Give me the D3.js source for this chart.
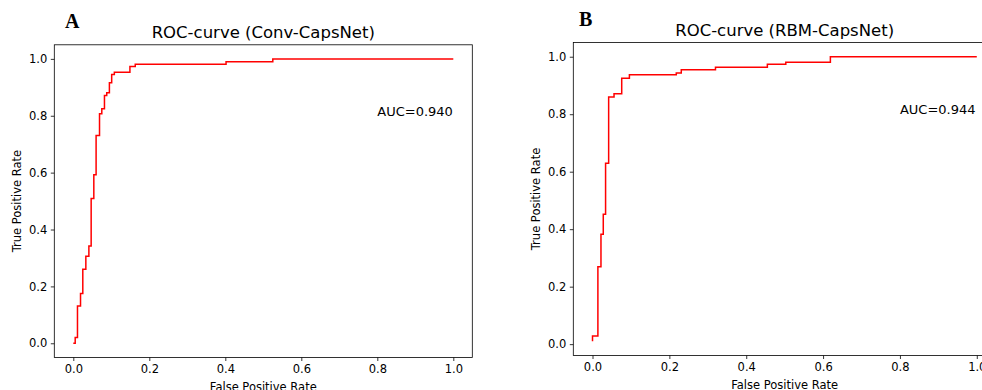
<!DOCTYPE html>
<html>
<head>
<meta charset="utf-8">
<script src="https://cdn.jsdelivr.net/npm/d3@7"></script>
<style>
  body { margin: 0; background: #fff; }
  svg { display: block; font-family: "DejaVu Sans", sans-serif; }
</style>
</head>
<body>
<div id="chart"></div>
<script>
// ROC curve A (Conv-CapsNet) – step vertices (fpr, tpr)
const fprA = [0, 0.005, 0.011, 0.019, 0.025, 0.033, 0.041, 0.047, 0.054, 0.060, 0.069, 0.075, 0.082, 0.088, 0.095, 0.101, 0.108, 0.149, 0.163, 0.402, 0.525, 1.0];
const tprA = [0, 0.02, 0.131, 0.175, 0.26, 0.306, 0.342, 0.509, 0.593, 0.731, 0.807, 0.825, 0.871, 0.881, 0.916, 0.945, 0.953, 0.973, 0.981, 0.99, 1.0, 1.0];

// ROC curve B (RBM-CapsNet)
const fprB = [0, 0, 0.014, 0.022, 0.028, 0.034, 0.042, 0.056, 0.076, 0.096, 0.218, 0.231, 0.320, 0.455, 0.503, 0.619, 1.0];
const tprB = [0.01, 0.028, 0.269, 0.382, 0.452, 0.629, 0.860, 0.871, 0.925, 0.937, 0.943, 0.955, 0.963, 0.974, 0.981, 1.0, 1.0];

const ticks = [0, 0.2, 0.4, 0.6, 0.8, 1.0];
const titles = ['ROC-curve (Conv-CapsNet)', 'ROC-curve (RBM-CapsNet)'];
const aucLabels = ['AUC=0.940', 'AUC=0.944'];
const panelLetters = ['A', 'B'];

const width = 982, height = 390;

const svg = d3.select('#chart').append('svg')
  .attr('width', width)
  .attr('height', height);

const panels = [
  { fpr: fprA, tpr: tprA, x0: 54.3, x1: 472.3, y0: 357.5, y1: 44.8, yMin: -0.05, letterX: 65, letterY: 28 },
  { fpr: fprB, tpr: tprB, x0: 573.3, x1: 996, y0: 355.5, y1: 42.5, yMin: -0.0395, letterX: 579, letterY: 26 }
];

panels.forEach((p, i) => {
  const x = d3.scaleLinear().domain([-0.05, 1.05]).range([p.x0, p.x1]);
  const y = d3.scaleLinear().domain([p.yMin, 1.0495]).range([p.y0, p.y1]);

  const g = svg.append('g');

  // curve
  const pts = p.fpr.map((f, j) => [f, p.tpr[j]]);
  const line = d3.line()
    .x(d => x(d[0]))
    .y(d => y(d[1]))
    .curve(d3.curveStepAfter);
  g.append('path')
    .datum(pts)
    .attr('d', line)
    .attr('fill', 'none')
    .attr('stroke', '#ff0000')
    .attr('stroke-width', 1.5);

  // axes
  const xAxis = d3.axisBottom(x).tickValues(ticks).tickFormat(d3.format('.1f')).tickSizeOuter(0).tickSize(3.5).tickPadding(3.5);
  const yAxis = d3.axisLeft(y).tickValues(ticks).tickFormat(d3.format('.1f')).tickSizeOuter(0).tickSize(3.5).tickPadding(3.5);

  const gx = g.append('g').attr('transform', `translate(0,${p.y0})`).call(xAxis);
  const gy = g.append('g').attr('transform', `translate(${p.x0},0)`).call(yAxis);
  [gx, gy].forEach(a => {
    a.select('.domain').remove();
    a.selectAll('line').attr('stroke', '#000').attr('stroke-width', 0.8);
    a.selectAll('text').attr('font-family', '"DejaVu Sans", sans-serif').attr('font-size', 11.5).attr('fill', '#000');
  });

  // frame
  g.append('rect')
    .attr('x', p.x0).attr('y', p.y1)
    .attr('width', p.x1 - p.x0).attr('height', p.y0 - p.y1)
    .attr('fill', 'none')
    .attr('stroke', '#000')
    .attr('stroke-width', 0.8);

  // title
  g.append('text')
    .attr('x', (p.x0 + p.x1) / 2).attr('y', p.y1 - 6.5)
    .attr('text-anchor', 'middle')
    .attr('font-size', 16.5)
    .text(titles[i]);

  // axis labels
  g.append('text')
    .attr('x', (p.x0 + p.x1) / 2).attr('y', p.y0 + 33)
    .attr('text-anchor', 'middle')
    .attr('font-size', 11.5)
    .text('False Positive Rate');
  g.append('text')
    .attr('transform', `translate(${p.x0 - 33},${(p.y0 + p.y1) / 2}) rotate(-90)`)
    .attr('text-anchor', 'middle')
    .attr('font-size', 11.5)
    .text('True Positive Rate');

  // AUC annotation at data coords (0.8, 0.8)
  g.append('text')
    .attr('x', x(0.8)).attr('y', y(0.8))
    .attr('font-size', 13)
    .text(aucLabels[i]);

  // panel letter
  svg.append('text')
    .attr('x', p.letterX).attr('y', p.letterY)
    .attr('font-family', '"Liberation Serif", "Times New Roman", serif')
    .attr('font-weight', 'bold')
    .attr('font-size', 20)
    .text(panelLetters[i]);
});
</script>
</body>
</html>
